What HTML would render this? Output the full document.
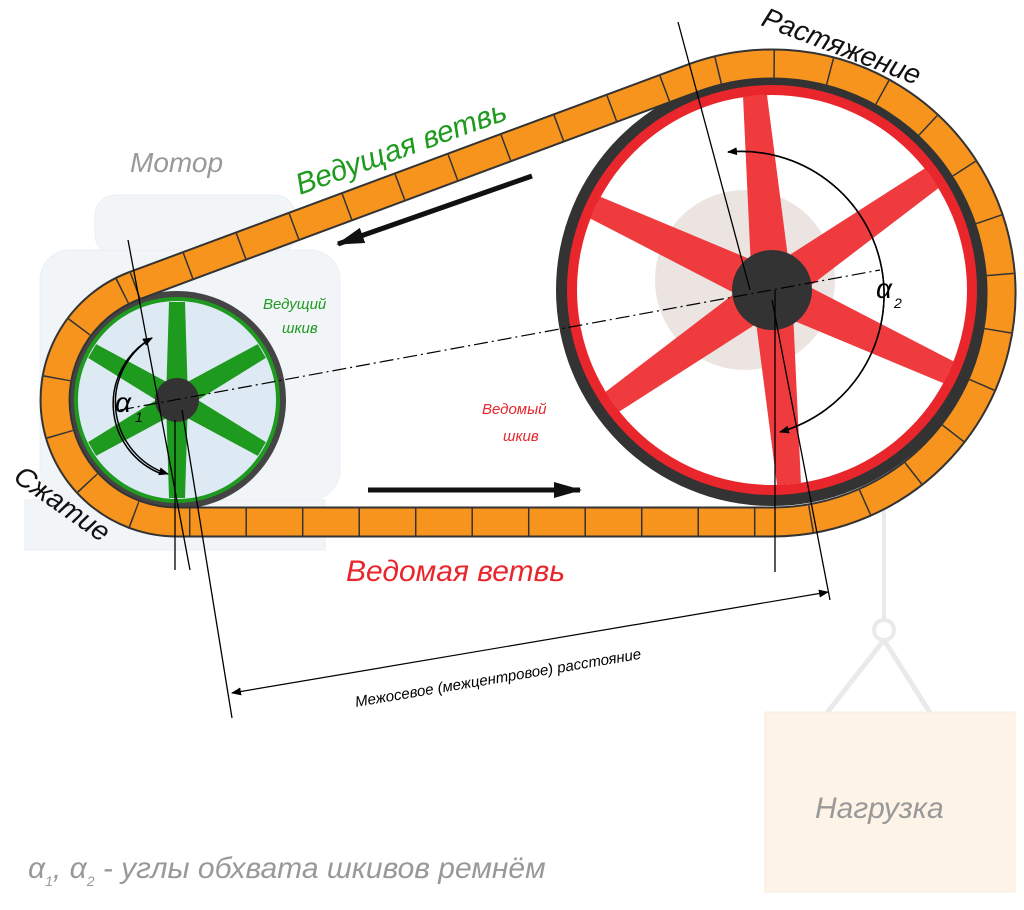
<!DOCTYPE html>
<html><head><meta charset="utf-8"><style>
html,body{margin:0;padding:0;background:#fff;}
svg{display:block;}
text{font-family:"Liberation Sans","DejaVu Sans",sans-serif;font-style:italic;}
</style></head><body>
<svg width="1024" height="910" viewBox="0 0 1024 910" xmlns="http://www.w3.org/2000/svg">
<defs>
<marker id="ah" markerWidth="10" markerHeight="8" refX="9" refY="4" orient="auto" markerUnits="userSpaceOnUse"><path d="M0,0 L10,4 L0,8 z" fill="#000"/></marker>
<marker id="bh" markerWidth="28" markerHeight="16" refX="26" refY="8" orient="auto" markerUnits="userSpaceOnUse"><path d="M0,0 L28,8 L0,16 z" fill="#111"/></marker>
<polygon id="rs" points="-20,0 -12,-195 12,-195 20,0" fill="#ef3a3e"/>
<polygon id="gs" points="-11,0 -8,-98 8,-98 11,0" fill="#1e9a1e"/>
</defs>
<!-- faded motor -->
<g opacity="0.25" fill="#c8d8e6" stroke="#b0c4d6">
<rect x="95" y="195" width="200" height="60" rx="20"/>
<rect x="40" y="250" width="300" height="250" rx="30"/>
<rect x="25" y="500" width="300" height="50"/>
</g>
<!-- faded load -->
<g opacity="0.2">
<line x1="884" y1="500" x2="884" y2="620" stroke="#999" stroke-width="4"/>
<circle cx="884" cy="630" r="10" fill="none" stroke="#999" stroke-width="4"/>
<line x1="884" y1="640" x2="790" y2="760" stroke="#999" stroke-width="5"/>
<line x1="884" y1="640" x2="960" y2="760" stroke="#999" stroke-width="5"/>
<rect x="765" y="712" width="250" height="180" fill="#f6c98a" stroke="#e0a860"/>
</g>
<text x="815" y="818" font-size="30" fill="#999">Нагрузка</text>
<!-- large pulley -->
<g>
<circle cx="772" cy="290" r="216" fill="#333"/>
<circle cx="772" cy="290" r="205" fill="#e8262b"/>
<circle cx="772" cy="290" r="195" fill="#fff"/>
<circle cx="745" cy="280" r="90" fill="#ece4e0"/>
<g transform="translate(772,290) rotate(-5)">
<use href="#rs"/><use href="#rs" transform="rotate(60)"/><use href="#rs" transform="rotate(120)"/>
<use href="#rs" transform="rotate(180)"/><use href="#rs" transform="rotate(240)"/><use href="#rs" transform="rotate(300)"/>
</g>
<circle cx="772" cy="290" r="40" fill="#333"/>
</g>
<!-- small pulley -->
<g>
<circle cx="177" cy="400" r="109" fill="#444"/>
<circle cx="177" cy="400" r="103" fill="#1e9a1e"/>
<circle cx="177" cy="400" r="99" fill="#dde9f3"/>
<g transform="translate(177,400)">
<use href="#gs"/><use href="#gs" transform="rotate(60)"/><use href="#gs" transform="rotate(120)"/>
<use href="#gs" transform="rotate(180)"/><use href="#gs" transform="rotate(240)"/><use href="#gs" transform="rotate(300)"/>
</g>
<circle cx="177" cy="400" r="22" fill="#333"/>
</g>
<!-- belt -->
<path d="M134.4,285.7 L692.1,78.4 A229,229 0 1 1 772,522 L177,522 A122,122 0 0 1 134.4,285.7 Z" fill="none" stroke="#333" stroke-width="31"/>
<path d="M134.4,285.7 L692.1,78.4 A229,229 0 1 1 772,522 L177,522 A122,122 0 0 1 134.4,285.7 Z" fill="none" stroke="#f7941d" stroke-width="27"/>
<path d="M134.4,285.7 L692.1,78.4 A229,229 0 1 1 772,522 L177,522 A122,122 0 0 1 134.4,285.7 Z" fill="none" stroke="#333" stroke-width="27" stroke-dasharray="1.5 55"/>
<!-- center lines -->
<line x1="120" y1="410" x2="880" y2="270" stroke="#000" stroke-width="1.2" stroke-dasharray="14 4 2 4"/>
<line x1="128" y1="240" x2="190" y2="570" stroke="#000" stroke-width="1.3"/>
<line x1="175" y1="420" x2="175" y2="570" stroke="#000" stroke-width="1.3"/>
<line x1="678" y1="22" x2="750" y2="290" stroke="#000" stroke-width="1.3"/>
<line x1="775" y1="290" x2="775" y2="572" stroke="#000" stroke-width="1.3"/>
<line x1="772" y1="300" x2="830" y2="600" stroke="#000" stroke-width="1.3"/>
<line x1="182" y1="410" x2="232" y2="718" stroke="#000" stroke-width="1.3"/>
<!-- dimension -->
<line x1="232" y1="693" x2="828" y2="592" stroke="#000" stroke-width="1.2" marker-end="url(#ah)"/>
<path d="M240,691.6 L232,693" stroke="#000" marker-end="url(#ah)"/>
<text transform="translate(356,707) rotate(-9.6)" font-size="15" fill="#000">Межосевое (межцентровое) расстояние</text>
<!-- angle arcs -->
<path d="M162,474 A75,75 0 0 1 152,338" fill="none" stroke="#000" stroke-width="1.5" marker-end="url(#ah)"/>
<path d="M152,338 A75,75 0 0 0 168,474" fill="none" stroke="#000" stroke-width="1.5" marker-end="url(#ah)"/>
<path d="M780,432 A143,143 0 0 0 728,152" fill="none" stroke="#000" stroke-width="1.5" marker-end="url(#ah)"/>
<path d="M728,152 A143,143 0 0 1 780,432" fill="none" stroke="#000" stroke-width="1.5" marker-end="url(#ah)"/>
<text x="115" y="412" font-size="28" fill="#000">α</text><text x="135" y="422" font-size="14" fill="#000">1</text>
<text x="876" y="298" font-size="28" fill="#000">α</text><text x="894" y="308" font-size="14" fill="#000">2</text>
<!-- big arrows -->
<line x1="532" y1="176" x2="338" y2="244" stroke="#111" stroke-width="5" marker-end="url(#bh)"/>
<line x1="368" y1="490" x2="580" y2="490" stroke="#111" stroke-width="5" marker-end="url(#bh)"/>
<!-- labels -->
<text transform="translate(300,195) rotate(-20)" font-size="30" fill="#1e9a1e">Ведущая ветвь</text>
<text transform="translate(760,25) rotate(21)" font-size="28" fill="#111">Растяжение</text>
<text x="130" y="172" font-size="28" fill="#999">Мотор</text>
<text x="263" y="309" font-size="15" fill="#1e9a1e">Ведущий</text>
<text x="282" y="333" font-size="15" fill="#1e9a1e">шкив</text>
<text x="482" y="414" font-size="15" fill="#e8262b">Ведомый</text>
<text x="503" y="441" font-size="15" fill="#e8262b">шкив</text>
<text x="346" y="581" font-size="30" fill="#e8262b">Ведомая ветвь</text>
<text transform="translate(12,480) rotate(35)" font-size="28" fill="#111">Сжатие</text>
<text x="28" y="878" font-size="30" fill="#999">α<tspan font-size="14" dy="8">1</tspan><tspan dy="-8">, α</tspan><tspan font-size="14" dy="8">2</tspan><tspan dy="-8"> - углы обхвата шкивов ремнём</tspan></text>
</svg>
</body></html>
